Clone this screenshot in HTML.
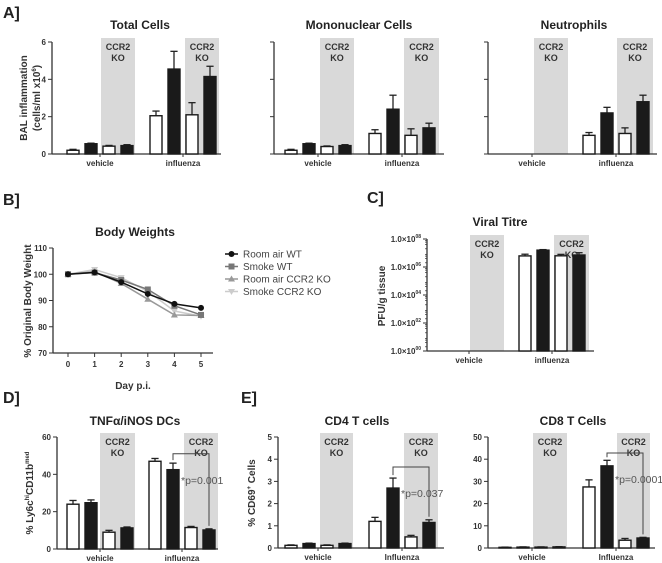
<!DOCTYPE html>
<html><head><meta charset="utf-8"><style>
html,body{margin:0;padding:0;background:#fff;}
svg{display:block;font-family:"Liberation Sans",sans-serif;}
.t{font-weight:bold;font-size:12px;fill:#222;text-anchor:middle}
.tk{font-weight:bold;font-size:8px;fill:#333}
.lb{font-weight:bold;font-size:16px;fill:#222}
.ko{font-weight:bold;font-size:9px;fill:#333;text-anchor:middle}
.yt{font-weight:bold;font-size:10px;fill:#333;text-anchor:middle}
</style></head><body>
<svg id="fig" width="662" height="563" viewBox="0 0 662 563" xmlns="http://www.w3.org/2000/svg">
<text class="lb" x="3" y="18">A]</text>
<text class="lb" x="3" y="205">B]</text>
<text class="lb" x="367" y="203">C]</text>
<text class="lb" x="3" y="403">D]</text>
<text class="lb" x="241" y="403">E]</text>
<text class="t" x="140" y="29">Total Cells</text>
<text class="t" x="359" y="29">Mononuclear Cells</text>
<text class="t" x="574" y="29">Neutrophils</text>
<text class="t" x="135" y="236">Body Weights</text>
<text class="t" x="500" y="226">Viral Titre</text>
<text class="t" x="135" y="425">TNFα/iNOS DCs</text>
<text class="t" x="357" y="425">CD4 T cells</text>
<text class="t" x="573" y="425">CD8 T Cells</text>
<text class="yt" transform="translate(27,98) rotate(-90)">BAL inflammation</text>
<text class="yt" transform="translate(40,98) rotate(-90)">(cells/ml x10<tspan font-size="6" dy="-4">6</tspan><tspan dy="4">)</tspan></text>
<text class="yt" transform="translate(31,301) rotate(-90)">% Original Body Weight</text>
<text class="yt" x="133" y="389">Day p.i.</text>
<text class="yt" transform="translate(385,296) rotate(-90)">PFU/g tissue</text>
<text class="yt" transform="translate(33,493) rotate(-90)">% Ly6c<tspan font-size="6" dy="-4">hi</tspan><tspan dy="4">CD11b</tspan><tspan font-size="6" dy="-4">med</tspan></text>
<text class="yt" transform="translate(255,493) rotate(-90)">% CD69<tspan font-size="6" dy="-4">+</tspan><tspan dy="4"> Cells</tspan></text>
</svg>
<script>
// ---- Data ----
const groups = ["vehicle","influenza"];
const totalVeh = [0.2,0.55,0.42,0.45], totalFlu = [2.05,4.55,2.1,4.15];
const totalVehErr = [0.05,0.03,0.04,0.05], totalFluErr = [0.25,0.95,0.65,0.55];
const monoVeh = [0.2,0.55,0.4,0.45], monoFlu = [1.1,2.4,1.0,1.4];
const monoVehErr = [0.05,0.03,0.03,0.05], monoFluErr = [0.2,0.75,0.35,0.25];
const neutVeh = [0,0,0,0], neutFlu = [1.0,2.2,1.1,2.8];
const neutVehErr = [0,0,0,0], neutFluErr = [0.15,0.3,0.3,0.35];
const aTicks = [0,2,4,6];
const titreVeh = [0,0,0,0], titreFlu = [6.2e6,1.6e7,6.3e6,7.2e6];
const titreFluTop = [8.2e6,1.75e7,8e6,1.05e7];
const titreTicks = [0,2,4,6,8];
const dcVeh = [24,24.8,9,11.3], dcFlu = [47,42.5,11.5,10.2];
const dcVehErr = [2,1.5,1,0.5], dcFluErr = [1.5,3.5,0.6,0.6];
const dcTicks = [0,20,40,60];
const cd4Veh = [0.12,0.2,0.12,0.2], cd4Flu = [1.2,2.7,0.5,1.15];
const cd4VehErr = [0.02,0.02,0.02,0.02], cd4FluErr = [0.18,0.45,0.07,0.12];
const cd4Ticks = [0,1,2,3,4,5];
const cd8Veh = [0.3,0.4,0.4,0.5], cd8Flu = [27.5,37,3.5,4.5];
const cd8VehErr = [0.1,0.1,0.1,0.1], cd8FluErr = [3.2,2.5,0.8,0.3];
const cd8Ticks = [0,10,20,30,40,50];
const days = [0,1,2,3,4,5];
const bwTicks = [70,80,90,100,110];
const bwNames = ["Room air WT","Smoke WT","Room air CCR2 KO","Smoke CCR2 KO"];
const bwRoomWT = [100,100.7,97,92.5,88.7,87.2];
const bwSmokeWT = [100,100.6,97.8,94.2,88,84.5];
const bwRoomKO = [100,101,96.5,90.5,84.5,84.3];
const bwSmokeKO = [100,101.8,98.7,93.5,86,84];

const svg = document.getElementById('fig');
const NS = "http://www.w3.org/2000/svg";
function mk(tag, attrs, parent){const e=document.createElementNS(NS,tag);for(const k in attrs)e.setAttribute(k,attrs[k]);(parent||svg).appendChild(e);return e;}

function barPanel(P){
  const g = mk('g',{});
  
  
  const y = v => P.log ? P.yb - (v<=0?0:Math.log10(v))/P.max*(P.yb-P.yt) : P.yb - v/P.max*(P.yb-P.yt);
  [[P.s[0],P.s[1]],[P.s[2],P.s[3]]].forEach((s,i)=>{
    const r = mk('rect',{x:s[0],y:P.yt-4,width:s[1]-s[0],height:P.yb-P.yt+4,fill:'#d9d9d9'},g);
    
    
    const t1 = mk('text',{class:'ko',x:(s[0]+s[1])/2,y:P.yt+8},g); t1.textContent='CCR2';
    
    
    const t2 = mk('text',{class:'ko',x:(s[0]+s[1])/2,y:P.yt+19},g); t2.textContent='KO';
  });
  mk('line',{x1:P.ox,y1:P.yt,x2:P.ox,y2:P.yb,stroke:'#333','stroke-width':1.3},g);
  mk('line',{x1:P.ox,y1:P.yb,x2:P.xr,y2:P.yb,stroke:'#333','stroke-width':1.3},g);
  P.ticks.forEach(t=>{
    const yy = P.log ? P.yb - t/P.max*(P.yb-P.yt) : y(t);
    mk('line',{x1:P.ox-4,y1:yy,x2:P.ox,y2:yy,stroke:'#333','stroke-width':1},g);
    if(P.showLabels){
      const tx = mk('text',{class:'tk',x:P.ox-6,y:yy+3,'text-anchor':'end'},g);
      if(P.log){tx.textContent='1.0×10';const s=mk('tspan',{'font-size':5,dy:-4},tx);s.textContent=(t<10?'0':'')+t;}
      else tx.textContent=t;
      
      
    }
  });
  if(P.log){ for(let d=0; d<P.max; d++){ for(let m=2;m<10;m+=2){const yy=P.yb-(d+Math.log10(m))/P.max*(P.yb-P.yt);mk('line',{x1:P.ox-2,y1:yy,x2:P.ox,y2:yy,stroke:'#333','stroke-width':0.7},g);} } }
  const cx = [P.g1+2*P.pitch-3, P.g2+2*P.pitch-3];
  mk('line',{x1:cx[1],y1:P.yb,x2:cx[1],y2:P.yb+3,stroke:'#333'},g);
  mk('line',{x1:cx[0],y1:P.yb,x2:cx[0],y2:P.yb+3,stroke:'#333'},g);
  groups.forEach((gn,gi)=>{
    const lt = mk('text',{class:'tk','text-anchor':'middle',x:cx[gi],y:P.yb+12,'font-size':9},g);
    lt.textContent = P.catLabels ? P.catLabels[gi] : gn;
    
    
    const vals = P.vals[gi], tops = P.tops[gi];
    vals.forEach((v,i)=>{
      if(v<=0) return;
      const x0 = (gi==0?P.g1:P.g2) + i*P.pitch;
      const yv = y(v), ye = y(tops[i]);
      mk('line',{x1:x0+P.bw/2,y1:yv,x2:x0+P.bw/2,y2:ye,stroke:'#222','stroke-width':1.3},g);
      mk('line',{x1:x0+P.bw*0.2,y1:ye,x2:x0+P.bw*0.8,y2:ye,stroke:'#222','stroke-width':1.3},g);
      const b = mk('rect',{x:x0,y:yv,width:P.bw,height:P.yb-yv,fill:i%2?'#1a1a1a':'#fff',stroke:'#1a1a1a','stroke-width':1.4},g);
      
      
    });
  });
  if(P.bracket){
    const B=P.bracket; const yb=y(B.v);
    const xa=P.g2+P.pitch+P.bw/2, xb=P.g2+3*P.pitch+P.bw/2;
    const ya=y(P.tops[1][1])-3, yc=y(P.tops[1][3])-3;
    mk('path',{d:`M${xa},${ya} V${yb} H${xb} V${yc}`,fill:'none',stroke:'#444','stroke-width':1},g);
    const tx = mk('text',{x:xa+P.bw/2+2,y:yb+30,'font-size':10.5,fill:'#555'},g);
    tx.textContent=B.text;
    
    
  }
}
const add=(a,b)=>a.map((v,i)=>v+b[i]);
barPanel({name:'total-cells-chart',ox:52,xr:221,yt:42,yb:154,max:6,ticks:aTicks,showLabels:true,g1:67,g2:150,pitch:18,bw:12,s:[101,135,185,219],vals:[totalVeh,totalFlu],tops:[add(totalVeh,totalVehErr),add(totalFlu,totalFluErr)]});
barPanel({name:'mononuclear-chart',ox:274,xr:444,yt:42,yb:154,max:6,ticks:aTicks,showLabels:false,g1:285,g2:369,pitch:18,bw:12,s:[320,354,404,439],vals:[monoVeh,monoFlu],tops:[add(monoVeh,monoVehErr),add(monoFlu,monoFluErr)]});
barPanel({name:'neutrophils-chart',ox:488,xr:657,yt:42,yb:154,max:6,ticks:aTicks,showLabels:false,g1:499,g2:583,pitch:18,bw:12,s:[534,568,617,653],vals:[neutVeh,neutFlu],tops:[add(neutVeh,neutVehErr),add(neutFlu,neutFluErr)]});
barPanel({name:'viral-titre-chart',log:true,ox:427,xr:594,yt:239,yb:351,max:8,ticks:titreTicks,showLabels:true,g1:436,g2:519,pitch:18,bw:12,s:[470,504,554,589],vals:[titreVeh,titreFlu],tops:[titreVeh,titreFluTop]});
barPanel({name:'dc-chart',ox:57,xr:218,yt:437,yb:549,max:60,ticks:dcTicks,showLabels:true,g1:67,g2:149,pitch:18,bw:12,s:[100,135,184,218],vals:[dcVeh,dcFlu],tops:[add(dcVeh,dcVehErr),add(dcFlu,dcFluErr)],bracket:{v:51,text:'*p=0.001'}});
barPanel({name:'cd4-chart',ox:278,xr:444,yt:437,yb:548,max:5,ticks:cd4Ticks,showLabels:true,g1:285,g2:369,pitch:18,bw:12,s:[320,353,404,438],vals:[cd4Veh,cd4Flu],tops:[add(cd4Veh,cd4VehErr),add(cd4Flu,cd4FluErr)],catLabels:['vehicle','Influenza'],bracket:{v:3.65,text:'*p=0.037'}});
barPanel({name:'cd8-chart',ox:488,xr:655,yt:437,yb:548,max:50,ticks:cd8Ticks,showLabels:true,g1:499,g2:583,pitch:18,bw:12,s:[533,567,617,650],vals:[cd8Veh,cd8Flu],tops:[add(cd8Veh,cd8VehErr),add(cd8Flu,cd8FluErr)],catLabels:['vehicle','Influenza'],bracket:{v:42.8,text:'*p=0.0001'}});

(function(){
  const g = mk('g',{});
  
  
  const X = d => 68 + d*26.6, Y = v => 353 - (v-70)/40*105;
  mk('line',{x1:53,y1:Y(110),x2:53,y2:Y(70),stroke:'#333','stroke-width':1.3},g);
  mk('line',{x1:53,y1:Y(70),x2:213,y2:Y(70),stroke:'#333','stroke-width':1.3},g);
  bwTicks.forEach(t=>{mk('line',{x1:49,y1:Y(t),x2:53,y2:Y(t),stroke:'#333'},g);
    const tx=mk('text',{class:'tk','text-anchor':'end',x:47,y:Y(t)+3},g);tx.textContent=t;
    
    });
  days.forEach(d=>{mk('line',{x1:X(d),y1:Y(70),x2:X(d),y2:Y(70)+4,stroke:'#333'},g);
    const tx=mk('text',{class:'tk','text-anchor':'middle',x:X(d),y:Y(70)+14},g);tx.textContent=d;
    
    });
  const series=[bwRoomWT,bwSmokeWT,bwRoomKO,bwSmokeKO];
  const cols=['#111','#777','#999','#ccc'];
  const mark=(k,x,y,c,p)=>{
    if(k==0) return mk('circle',{cx:x,cy:y,r:3,fill:c},p);
    if(k==1) return mk('rect',{x:x-3,y:y-3,width:6,height:6,fill:c},p);
    if(k==2) return mk('path',{d:`M${x},${y-3.5}L${x+3.5},${y+2.5}L${x-3.5},${y+2.5}Z`,fill:c},p);
    return mk('path',{d:`M${x},${y+3.5}L${x+3.5},${y-2.5}L${x-3.5},${y-2.5}Z`,fill:c},p);
  };
  [3,2,1,0].forEach(k=>{
    const s=series[k];
    const pl=mk('polyline',{points:s.map((v,i)=>X(days[i])+','+Y(v)).join(' '),fill:'none',stroke:cols[k],'stroke-width':1.5},g);
    
    
    s.forEach((v,i)=>{const m=mark(k,X(days[i]),Y(v),cols[k],g);
      
      });
  });
  bwNames.forEach((n,k)=>{
    const yy=254+k*12.5;
    const lg=mk('g',{},g);
    
    
    mk('line',{x1:225,y1:yy,x2:238,y2:yy,stroke:cols[k],'stroke-width':1.5},lg);
    mark(k,231.5,yy,cols[k],lg);
    const tx=mk('text',{x:243,y:yy+3.5,'font-size':10,fill:'#444'},lg);tx.textContent=n;
  });
})();
</script>
</body></html>
